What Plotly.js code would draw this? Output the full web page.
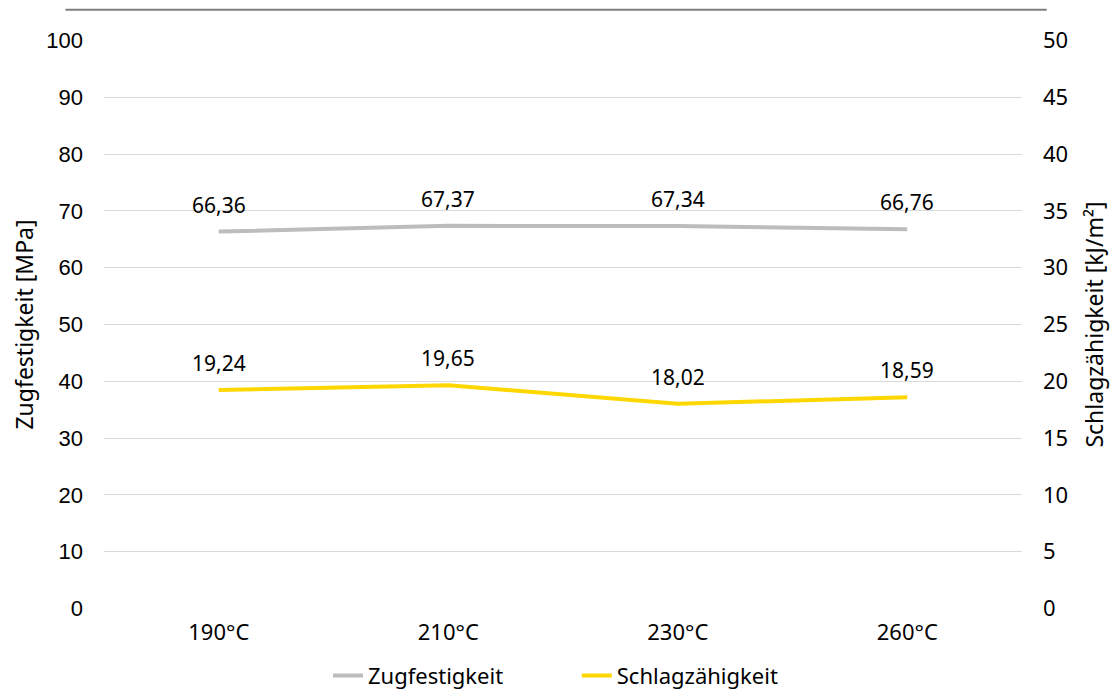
<!DOCTYPE html>
<html>
<head>
<meta charset="utf-8">
<script src="https://cdn.plot.ly/plotly-3.0.1.min.js"></script>
<style>html,body{margin:0;padding:0;background:#fff;}#chart{width:1111px;height:693px;}</style>
</head>
<body>
<div id="chart"></div>
<script>
const categories = ["190°C", "210°C", "230°C", "260°C"];
const zugfestigkeit = [66.36, 67.37, 67.34, 66.76];
const schlagzaehigkeit = [19.24, 19.65, 18.02, 18.59];
const leftTicks = [0, 10, 20, 30, 40, 50, 60, 70, 80, 90, 100];
const rightTicks = [0, 5, 10, 15, 20, 25, 30, 35, 40, 45, 50];
const seriesNames = ["Zugfestigkeit", "Schlagzähigkeit"];

const fmt = v => v.toFixed(2).replace('.', ',');
const labelFont = {family: "Noto Sans", size: 21, color: "#000"};
const pad = "\u00a0".repeat(12);

const traces = [
  {x: categories, y: zugfestigkeit, name: seriesNames[0] + pad, type: "scatter", mode: "lines",
   line: {color: "#BDBDBD", width: 4}, yaxis: "y"},
  {x: categories, y: schlagzaehigkeit, name: seriesNames[1], type: "scatter", mode: "lines",
   line: {color: "#FFD700", width: 4}, yaxis: "y2"}
];

const annotations = [];
categories.forEach((c, i) => {
  annotations.push({x: c, y: zugfestigkeit[i], xref: "x", yref: "y", text: fmt(zugfestigkeit[i]),
    showarrow: false, yshift: 27, font: labelFont});
  annotations.push({x: c, y: schlagzaehigkeit[i], xref: "x", yref: "y2", text: fmt(schlagzaehigkeit[i]),
    showarrow: false, yshift: 27, font: labelFont});
});

const layout = {
  width: 1111, height: 693,
  margin: {l: 104, r: 89, t: 40, b: 84},
  paper_bgcolor: "#fff", plot_bgcolor: "#fff",
  showlegend: true,
  legend: {orientation: "h", x: 0.5, xref: "container", xanchor: "center", y: 0.025, yref: "container", yanchor: "middle",
    font: {family: "Noto Sans", size: 22, color: "#000"}, tracegroupgap: 0},
  xaxis: {type: "category", range: [-0.5, 3.5], showgrid: false, zeroline: false, showline: false,
    ticks: "", ticklabelstandoff: 8, tickfont: {family: "Noto Sans", size: 22, color: "#000"}},
  yaxis: {range: [-0.1, 100.1], tickvals: leftTicks, showgrid: true, gridcolor: "#D9D9D9", gridwidth: 1,
    zeroline: false, showline: false, ticks: "", ticklabelstandoff: 20,
    tickfont: {family: "Liberation Sans", size: 22, color: "#000"},
    title: {text: "Zugfestigkeit [MPa]", standoff: 6, font: {family: "Noto Sans", size: 23, color: "#000"}}},
  yaxis2: {range: [-0.05, 50.05], tickvals: rightTicks, overlaying: "y", side: "right", showgrid: false,
    zeroline: false, showline: false, ticks: "", ticklabelstandoff: 20,
    tickfont: {family: "Noto Sans", size: 22, color: "#000"},
    title: {text: "Schlagzähigkeit [kJ/m²]", standoff: 19, font: {family: "Noto Sans", size: 23, color: "#000"}}},
  annotations: annotations,
  shapes: [{type: "line", xref: "paper", yref: "paper", x0: -0.042, x1: 1.027, y0: 1.053, y1: 1.053,
    line: {color: "#7F7F7F", width: 2}}]
};

Plotly.newPlot("chart", traces, layout, {displayModeBar: false, staticPlot: true});
</script>
</body>
</html>
